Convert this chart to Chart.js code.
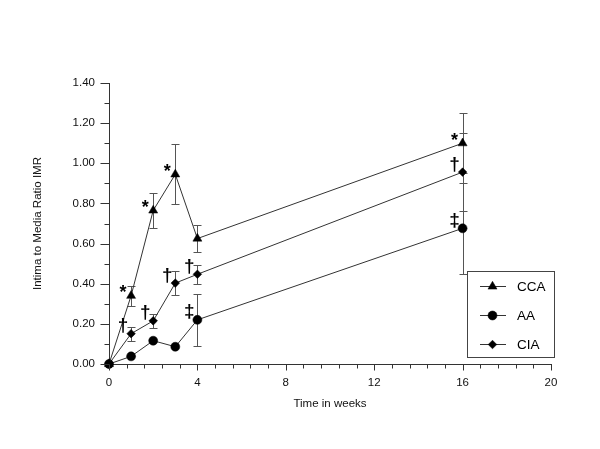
<!DOCTYPE html>
<html>
<head>
<meta charset="utf-8">
<script src="https://cdn.jsdelivr.net/npm/chart.js@4.4.1/dist/chart.umd.min.js"></script>
<style>
  html, body { margin: 0; padding: 0; background: #fff; }
  #wrap { width: 600px; height: 449px; }
</style>
</head>
<body>
<div id="wrap"><canvas id="c" width="600" height="449"></canvas></div>
<script>
// ---- data ----
const weeks  = [0, 1, 2, 3, 4, 16];
const cca    = [0, 0.34, 0.765, 0.945, 0.625, 1.10];
const ccaErr = [0, 0.05, 0.085, 0.15, 0.068, 0.15];
const aa     = [0, 0.038, 0.116, 0.086, 0.22, 0.676];
const aaErr  = [0, 0, 0, 0, 0.13, 0.228];
const cia    = [0, 0.151, 0.215, 0.403, 0.447, 0.956];
const ciaErr = [0, 0.035, 0.035, 0.061, 0.048, 0.195];
const ccaNote = ['', '*', '*', '*', '', '*'];
const aaNote  = ['', '', '', '', '\u2021', '\u2021'];
const ciaNote = ['', '\u2020', '\u2020', '\u2020', '\u2020', '\u2020'];
const seriesNames = ['CCA', 'AA', 'CIA'];
const yTickLabels = ['0.00','0.20','0.40','0.60','0.80','1.00','1.20','1.40'];
const xTickLabels = ['0','4','8','12','16','20'];

const FONT = '"Liberation Sans", Arial, Helvetica, sans-serif';
const toPts = (ys) => weeks.map((w, i) => ({x: w, y: ys[i]}));

function mkSet(label, ys, errs, notes, style, radius) {
  return {
    label: label,
    data: toPts(ys),
    errs: errs,
    notes: notes,
    showLine: true,
    borderColor: '#333',
    borderWidth: 1,
    backgroundColor: '#000',
    pointBackgroundColor: '#000',
    pointBorderColor: '#000',
    pointBorderWidth: 0.5,
    pointStyle: style,
    pointRadius: radius,
    tension: 0,
    clip: false
  };
}

const datasets = [
  mkSet(seriesNames[0], cca, ccaErr, ccaNote, 'triangle', 5.2),
  mkSet(seriesNames[1], aa, aaErr, aaNote, 'circle', 4.5),
  mkSet(seriesNames[2], cia, ciaErr, ciaNote, 'rectRot', 4.3)
];

const errorBars = {
  id: 'errorBars',
  beforeDatasetsDraw(chart) {
    const ctx = chart.ctx, xs = chart.scales.x, ys = chart.scales.y;
    ctx.save();
    ctx.strokeStyle = '#555';
    ctx.lineWidth = 1;
    chart.data.datasets.forEach(ds => {
      ds.data.forEach((p, i) => {
        const e = ds.errs[i];
        if (!e) return;
        const px = Math.round(xs.getPixelForValue(p.x)) + 0.5;
        const top = Math.round(ys.getPixelForValue(p.y + e)) + 0.5;
        const bot = Math.round(ys.getPixelForValue(p.y - e)) + 0.5;
        ctx.beginPath();
        ctx.moveTo(px, top); ctx.lineTo(px, bot);
        ctx.moveTo(px - 4, top); ctx.lineTo(px + 4, top);
        ctx.moveTo(px - 4, bot); ctx.lineTo(px + 4, bot);
        ctx.stroke();
      });
    });
    ctx.restore();
  }
};

const notes = {
  id: 'notes',
  afterDatasetsDraw(chart) {
    const ctx = chart.ctx, xs = chart.scales.x, ys = chart.scales.y;
    ctx.save();
    ctx.fillStyle = '#000';
    ctx.textAlign = 'center';
    ctx.textBaseline = 'alphabetic';
    chart.data.datasets.forEach(ds => {
      ds.data.forEach((p, i) => {
        const s = ds.notes[i];
        if (!s) return;
        const px = xs.getPixelForValue(p.x) - 8;
        const py = ys.getPixelForValue(p.y) - 8;
        if (s === '*') {
          ctx.font = 'bold 18px ' + FONT;
          ctx.fillText(s, px, py + 10.5);
        } else {
          ctx.font = 'bold 19px ' + FONT;
          ctx.fillText(s, px, py + 5.5);
        }
      });
    });
    ctx.restore();
  }
};

const axisTicks = {
  id: 'axisTicks',
  afterDraw(chart) {
    const ctx = chart.ctx, xs = chart.scales.x, ys = chart.scales.y;
    const area = chart.chartArea;
    ctx.save();
    ctx.strokeStyle = '#333';
    ctx.lineWidth = 1;
    ctx.beginPath();
    const yAxisX = Math.round(area.left) + 0.5;
    ys.ticks.forEach(t => {
      const py = Math.round(ys.getPixelForValue(t.value)) + 0.5;
      const len = t.label ? 9 : 5;
      ctx.moveTo(yAxisX - len, py); ctx.lineTo(yAxisX, py);
    });
    const xAxisY = Math.round(area.bottom) + 0.5;
    xs.ticks.forEach(t => {
      const px = Math.round(xs.getPixelForValue(t.value)) + 0.5;
      const len = t.label ? 6 : 4;
      ctx.moveTo(px, xAxisY); ctx.lineTo(px, xAxisY + len);
    });
    ctx.stroke();
    ctx.restore();
  }
};

const boxLegend = {
  id: 'boxLegend',
  afterDraw(chart) {
    const ctx = chart.ctx;
    const L = 467.5, T = 271.5, R = 554.5, B = 357.5;
    ctx.save();
    ctx.fillStyle = '#fff';
    ctx.fillRect(L, T, R - L, B - T);
    ctx.strokeStyle = '#444';
    ctx.lineWidth = 1;
    ctx.strokeRect(L, T, R - L, B - T);
    const rows = [286, 315, 344];
    chart.data.datasets.forEach((ds, i) => {
      const y = rows[i];
      ctx.strokeStyle = '#333';
      ctx.beginPath();
      ctx.moveTo(480, y + 0.5); ctx.lineTo(506, y + 0.5);
      ctx.stroke();
      ctx.fillStyle = '#000';
      ctx.strokeStyle = '#000';
      ctx.lineWidth = 0.5;
      Chart.helpers.drawPoint(ctx, {pointStyle: ds.pointStyle, radius: ds.pointRadius, borderWidth: 0.5}, 492.5, y + 0.5);
      ctx.lineWidth = 1;
      ctx.fillStyle = '#000';
      ctx.font = '13.5px "Liberation Sans Narrow", "Arial Narrow", ' + FONT;
      ctx.textAlign = 'left';
      ctx.textBaseline = 'middle';
      ctx.fillText(ds.label, 517, y + 1);
    });
    ctx.restore();
  }
};

const isMult = (v, m) => Math.abs(v / m - Math.round(v / m)) < 1e-6;

new Chart(document.getElementById('c'), {
  type: 'scatter',
  data: { datasets: datasets },
  plugins: [errorBars, notes, axisTicks, boxLegend],
  options: {
    responsive: false,
    animation: false,
    events: [],
    layout: { padding: { left: 25, right: 49, top: 83, bottom: 30 } },
    plugins: { legend: { display: false }, tooltip: { enabled: false } },
    scales: {
      x: {
        type: 'linear',
        min: 0, max: 20,
        afterFit(s) { s.height = 55; },
        grid: { display: true, drawOnChartArea: false, drawTicks: false, color: 'rgba(0,0,0,0)' },
        border: { display: true, color: '#333', width: 1 },
        ticks: {
          stepSize: 0.8,
          autoSkip: false,
          maxRotation: 0,
          padding: 12,
          color: '#111',
          font: { family: FONT, size: 11.5 },
          callback: (v) => isMult(v, 4) ? xTickLabels[Math.round(v / 4)] : ''
        },
        title: { display: true, text: 'Time in weeks', color: '#111',
                 font: { family: FONT, size: 11.5 }, padding: { top: 4, bottom: 8 } }
      },
      y: {
        type: 'linear',
        min: 0, max: 1.4,
        afterFit(s) { s.width = 84; },
        grid: { display: true, drawOnChartArea: false, drawTicks: false, color: 'rgba(0,0,0,0)' },
        border: { display: true, color: '#333', width: 1 },
        ticks: {
          stepSize: 0.1,
          autoSkip: false,
          padding: 14,
          color: '#111',
          font: { family: FONT, size: 11.5 },
          callback: (v) => isMult(v, 0.2) ? yTickLabels[Math.round(v / 0.2)] : ''
        },
        title: { display: true, text: 'Intima to Media Ratio IMR', color: '#111',
                 font: { family: FONT, size: 11.5 }, padding: { top: 6, bottom: 4 } }
      }
    }
  }
});
</script>
</body>
</html>
